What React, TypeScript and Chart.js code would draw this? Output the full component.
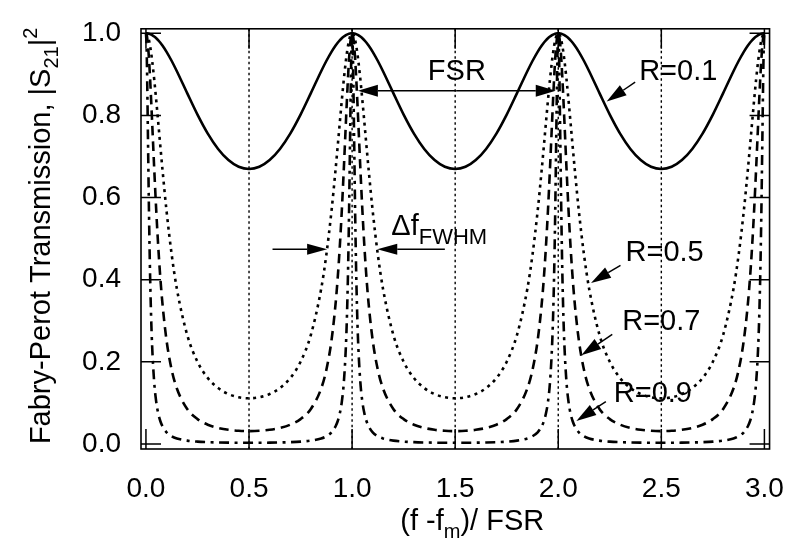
import React, { useEffect, useRef } from 'react';
import { Chart, registerables } from 'chart.js';

Chart.register(...registerables);

const FONT = '"Liberation Sans", Arial, Helvetica, sans-serif';

// Axis ticks
const xTickValues = [0, 0.5, 1.0, 1.5, 2.0, 2.5, 3.0];
const yTickValues = [0, 0.2, 0.4, 0.6, 0.8, 1.0];

// Transmission peaks lie at integer multiples of the FSR
const peakPositions = [0, 1, 2, 3];
// Distance from the nearest peak (in FSR units) at which values were read
const offsets = [0, 0.0025, 0.005, 0.01, 0.015, 0.02, 0.025, 0.03, 0.04, 0.05, 0.06, 0.07, 0.08, 0.1, 0.125, 0.15, 0.2, 0.25, 0.3, 0.35, 0.4, 0.45, 0.5];
// Transmission read at those offsets, one list per mirror reflectivity
const transR01 = [1, 0.99997, 0.99988, 0.99951, 0.9989, 0.99806, 0.99697, 0.99565, 0.9923, 0.98806, 0.98296, 0.97704, 0.97037, 0.95497, 0.93256, 0.90763, 0.85426, 0.80199, 0.75574, 0.71838, 0.69126, 0.67489, 0.66944];
const transR05 = [1, 0.99951, 0.99803, 0.99217, 0.98256, 0.96942, 0.95306, 0.93384, 0.88836, 0.83628, 0.7807, 0.72428, 0.669, 0.56691, 0.4605, 0.37752, 0.26568, 0.2, 0.16036, 0.13603, 0.12142, 0.11358, 0.11111];
const transR07 = [1, 0.99808, 0.99238, 0.97022, 0.93542, 0.89074, 0.83926, 0.78401, 0.67172, 0.56775, 0.47792, 0.40315, 0.342, 0.25184, 0.17998, 0.13491, 0.08512, 0.0604, 0.04681, 0.03891, 0.03432, 0.0319, 0.03114];
const transR09 = [1, 0.97828, 0.91843, 0.7379, 0.55591, 0.41331, 0.31093, 0.23877, 0.15027, 0.10194, 0.07331, 0.05515, 0.04298, 0.02827, 0.01861, 0.0133, 0.00798, 0.00552, 0.00423, 0.00349, 0.00306, 0.00284, 0.00277];

// Curve labels with arrows (data coordinates)
const curveLabels = ['R=0.1', 'R=0.5', 'R=0.7', 'R=0.9'];
const curveLabelX = [2.582, 2.516, 2.5, 2.459];
const curveLabelY = [0.906, 0.466, 0.298, 0.1225];
const curveArrowTailX = [2.373, 2.302, 2.262, 2.231];
const curveArrowTailY = [0.881, 0.435, 0.267, 0.103];
const curveArrowTipX = [2.235, 2.159, 2.112, 2.088];
const curveArrowTipY = [0.834, 0.392, 0.216, 0.056];

// FSR double arrow
const fsrArrowX = [1.028, 1.988];
const fsrArrowY = 0.86;
const fsrLabelX = 1.508;
const fsrLabelY = 0.906;

// FWHM arrows
const fwhmLeftArrowX = [0.614, 0.879];
const fwhmRightArrowX = [1.45, 1.122];
const fwhmArrowY = 0.474;
const fwhmLabelX = 1.19;
const fwhmLabelY = 0.508;

function buildSeries(profile: number[]) {
  const pts: { x: number; y: number }[] = [];
  peakPositions.forEach((p) => {
    for (let i = offsets.length - 1; i >= 0; i--) {
      const x = p - offsets[i];
      if (x >= 0) pts.push({ x, y: profile[i] });
    }
    for (let i = 1; i < offsets.length - 1; i++) {
      const x = p + offsets[i];
      if (x <= 3) pts.push({ x, y: profile[i] });
    }
  });
  return pts;
}

type Part = { text: string; size: number; dy: number; w?: number };

function drawRich(ctx: CanvasRenderingContext2D, parts: Part[], x: number, y: number, align: 'center' | 'left') {
  let total = 0;
  parts.forEach((p) => {
    ctx.font = `${p.size}px ${FONT}`;
    p.w = ctx.measureText(p.text).width;
    total += p.w;
  });
  let xx = align === 'center' ? x - total / 2 : x;
  ctx.textAlign = 'left';
  ctx.textBaseline = 'alphabetic';
  parts.forEach((p) => {
    ctx.font = `${p.size}px ${FONT}`;
    ctx.fillText(p.text, xx, y + p.dy);
    xx += p.w || 0;
  });
}

function drawArrow(ctx: CanvasRenderingContext2D, x1: number, y1: number, x2: number, y2: number, headLen: number, headHalf: number) {
  const ang = Math.atan2(y2 - y1, x2 - x1);
  const bx = x2 - headLen * Math.cos(ang);
  const by = y2 - headLen * Math.sin(ang);
  ctx.beginPath();
  ctx.moveTo(x1, y1);
  ctx.lineTo(bx, by);
  ctx.stroke();
  ctx.beginPath();
  ctx.moveTo(x2, y2);
  ctx.lineTo(bx + headHalf * Math.sin(ang), by - headHalf * Math.cos(ang));
  ctx.lineTo(bx - headHalf * Math.sin(ang), by + headHalf * Math.cos(ang));
  ctx.closePath();
  ctx.fill();
}

const decorPlugin = {
  id: 'fpDecor',
  beforeDatasetsDraw(chart: any) {
    const { ctx, chartArea: a, scales } = chart;
    const xs = scales.x;
    ctx.save();
    ctx.strokeStyle = '#000';
    ctx.lineWidth = 1.4;
    ctx.setLineDash([2.5, 3]);
    xTickValues.forEach((v) => {
      if (v > 0 && v < 3) {
        const px = xs.getPixelForValue(v);
        ctx.beginPath();
        ctx.moveTo(px, a.top);
        ctx.lineTo(px, a.bottom);
        ctx.stroke();
      }
    });
    ctx.restore();
  },
  afterDatasetsDraw(chart: any) {
    const { ctx, chartArea: a, scales } = chart;
    const xs = scales.x;
    const ys = scales.y;
    const X = (v: number) => xs.getPixelForValue(v);
    const Y = (v: number) => ys.getPixelForValue(v);
    ctx.save();
    ctx.strokeStyle = '#000';
    ctx.fillStyle = '#000';
    ctx.setLineDash([]);
    ctx.lineWidth = 1.6;
    ctx.strokeRect(a.left, a.top, a.right - a.left, a.bottom - a.top);
    const tl = 20;
    ctx.lineWidth = 1.5;
    yTickValues.forEach((v) => {
      const py = Y(v);
      ctx.beginPath();
      ctx.moveTo(a.left, py);
      ctx.lineTo(a.left + tl, py);
      ctx.moveTo(a.right, py);
      ctx.lineTo(a.right - tl, py);
      ctx.stroke();
    });
    xTickValues.forEach((v) => {
      const px = X(v);
      ctx.beginPath();
      ctx.moveTo(px, a.bottom);
      ctx.lineTo(px, a.bottom - tl);
      ctx.moveTo(px, a.top);
      ctx.lineTo(px, a.top + tl);
      ctx.stroke();
    });

    // curve labels
    ctx.lineWidth = 1.5;
    curveLabels.forEach((t, i) => {
      ctx.font = `29px ${FONT}`;
      ctx.textAlign = 'center';
      ctx.textBaseline = 'middle';
      ctx.fillText(t, X(curveLabelX[i]), Y(curveLabelY[i]));
      drawArrow(ctx, X(curveArrowTailX[i]), Y(curveArrowTailY[i]), X(curveArrowTipX[i]), Y(curveArrowTipY[i]), 20, 6);
    });

    // FSR
    const fy = Y(fsrArrowY);
    const fx1 = X(fsrArrowX[0]);
    const fx2 = X(fsrArrowX[1]);
    drawArrow(ctx, (fx1 + fx2) / 2, fy, fx1, fy, 20, 6);
    drawArrow(ctx, (fx1 + fx2) / 2, fy, fx2, fy, 20, 6);
    ctx.font = `29px ${FONT}`;
    ctx.textAlign = 'center';
    ctx.textBaseline = 'middle';
    ctx.fillText('FSR', X(fsrLabelX), Y(fsrLabelY));

    // FWHM
    const wy = Y(fwhmArrowY);
    drawArrow(ctx, X(fwhmLeftArrowX[0]), wy, X(fwhmLeftArrowX[1]), wy, 20, 5.5);
    drawArrow(ctx, X(fwhmRightArrowX[0]), wy, X(fwhmRightArrowX[1]), wy, 20, 5.5);
    drawRich(ctx, [
      { text: '\u0394f', size: 29, dy: 0 },
      { text: 'FWHM', size: 22, dy: 9 },
    ], X(fwhmLabelX), Y(fwhmLabelY), 'left');
    ctx.restore();
  },
  afterDraw(chart: any) {
    const { ctx, chartArea: a } = chart;
    ctx.save();
    ctx.fillStyle = '#000';
    // x-axis title
    drawRich(ctx, [
      { text: '(f -f', size: 29, dy: 0 },
      { text: 'm', size: 20, dy: 8 },
      { text: ')/ FSR', size: 29, dy: 0 },
    ], (a.left + a.right) / 2 + 17, 530, 'center');
    // y-axis title
    ctx.translate(50, (a.top + a.bottom) / 2 - 3);
    ctx.rotate(-Math.PI / 2);
    drawRich(ctx, [
      { text: 'Fabry-Perot Transmission, |S', size: 29, dy: 0 },
      { text: '21', size: 20, dy: 8 },
      { text: '|', size: 29, dy: 0 },
      { text: '2', size: 20, dy: -13 },
    ], 0, 0, 'center');
    ctx.restore();
  },
};

export default function App() {
  const canvasRef = useRef<HTMLCanvasElement | null>(null);
  useEffect(() => {
    document.body.style.margin = '0';
    const canvas = canvasRef.current;
    if (!canvas) return;
    const common = {
      borderColor: '#000',
      borderWidth: 2.6,
      pointRadius: 0,
      fill: false,
      cubicInterpolationMode: 'monotone' as const,
    };
    const chart = new Chart(canvas, {
      type: 'line',
      data: {
        datasets: [
          { ...common, label: curveLabels[0], data: buildSeries(transR01), borderDash: [] },
          { ...common, label: curveLabels[1], data: buildSeries(transR05), borderDash: [3, 4.5] },
          { ...common, label: curveLabels[2], data: buildSeries(transR07), borderDash: [9.5, 6] },
          { ...common, label: curveLabels[3], data: buildSeries(transR09), borderDash: [10, 5.5, 3, 5.5] },
        ],
      },
      options: {
        animation: false,
        responsive: false,
        events: [],
        layout: { padding: { top: 13, right: 17, left: 0, bottom: 0 } },
        plugins: { legend: { display: false }, tooltip: { enabled: false } },
        scales: {
          x: {
            type: 'linear',
            min: -0.024,
            max: 3.025,
            grid: { display: false },
            border: { display: false },
            ticks: {
              color: '#000',
              font: { family: FONT, size: 28 },
              padding: 15,
              maxRotation: 0,
              callback: (v: any) => Number(v).toFixed(1),
            },
            afterBuildTicks: (s: any) => {
              s.ticks = xTickValues.map((v) => ({ value: v }));
            },
            afterFit: (s: any) => {
              s.height = 95;
            },
          },
          y: {
            type: 'linear',
            min: -0.0124,
            max: 1.011,
            grid: { display: false },
            border: { display: false },
            ticks: {
              color: '#000',
              font: { family: FONT, size: 28 },
              padding: 12,
              callback: (v: any) => Number(v).toFixed(1),
            },
            afterBuildTicks: (s: any) => {
              s.ticks = yTickValues.map((v) => ({ value: v }));
            },
            afterFit: (s: any) => {
              s.width = 141;
            },
          },
        },
      },
      plugins: [decorPlugin],
    });
    return () => chart.destroy();
  }, []);
  return (
    <div style={{ width: 799, height: 544 }}>
      <canvas ref={canvasRef} width={799} height={544} />
    </div>
  );
}
